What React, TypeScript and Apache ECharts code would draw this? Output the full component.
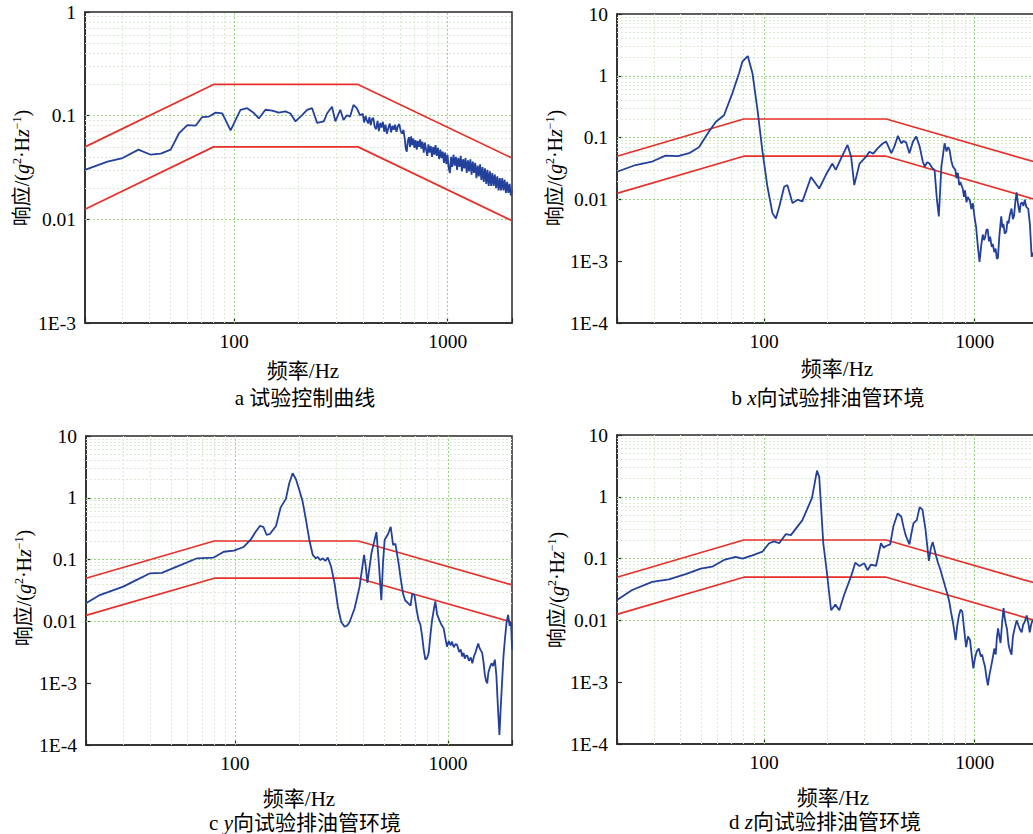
import React, { useEffect, useRef } from "react";
import * as echarts from "echarts";

const FONT = "'Liberation Serif', 'Times New Roman', 'Noto Sans CJK SC', serif";

const xRange = [20, 2000];
const xTickLabels = [100, 1000];
const xMajorGrid = [100, 1000];
const xMinorGrid = [30, 40, 50, 60, 70, 80, 90, 200, 300, 400, 500, 600, 700, 800, 900];
const yRangeA = [0.001, 1];
const yRangeBCD = [0.0001, 10];
const minorMultipliers = [2, 3, 4, 5, 6, 7, 8, 9];

const specUpper = [[20, 0.05], [80, 0.2], [380, 0.2], [2000, 0.039]];
const specLower = [[20, 0.0125], [80, 0.05], [380, 0.05], [2000, 0.0097]];

const respA = [
  [20, 0.03], [25.5, 0.036], [30, 0.039], [35.6, 0.047], [40.6, 0.042], [45.3, 0.043], [50.4, 0.047],
  [55.2, 0.068], [60.3, 0.081], [65.9, 0.08], [70.8, 0.097], [76.2, 0.098], [81.8, 0.107], [87.9, 0.105],
  [96.2, 0.072], [101.5, 0.091], [107, 0.114], [115, 0.118], [123.6, 0.106], [130.4, 0.094], [140, 0.114],
  [150.6, 0.112], [161.7, 0.107], [173.6, 0.11], [183.3, 0.105], [193.6, 0.088], [207.9, 0.101],
  [219.5, 0.114], [231.6, 0.118], [244.5, 0.085], [262.7, 0.088], [272, 0.105], [287, 0.122],
  [297.6, 0.088], [313.9, 0.114], [325, 0.091], [337, 0.101], [348.9, 0.098], [361.8, 0.127],
  [375, 0.118], [388, 0.101],
  [400, 0.104], [406, 0.086], [412, 0.099], [418, 0.09], [424, 0.084], [430, 0.097], [436, 0.081],
  [442, 0.093], [448, 0.095], [455, 0.078], [462, 0.074], [469, 0.089], [476, 0.071], [483, 0.085],
  [490, 0.077], [497, 0.087], [504, 0.07], [511, 0.082], [519, 0.067], [527, 0.076], [535, 0.084],
  [543, 0.069], [551, 0.08], [559, 0.073], [567, 0.082], [575, 0.07], [584, 0.079], [593, 0.083],
  [602, 0.071], [611, 0.067], [620, 0.073], [629, 0.06], [636, 0.048], [643, 0.045], [650, 0.057],
  [658, 0.062], [666, 0.05], [674, 0.063], [682, 0.052], [690, 0.06], [698, 0.049], [707, 0.058],
  [716, 0.047], [725, 0.057], [734, 0.05], [743, 0.059], [752, 0.048], [762, 0.056], [772, 0.044],
  [782, 0.055], [792, 0.047], [802, 0.041], [812, 0.053], [822, 0.044], [833, 0.051], [844, 0.04],
  [855, 0.05], [866, 0.042], [877, 0.052], [888, 0.041], [900, 0.049], [912, 0.038], [924, 0.047],
  [936, 0.039], [948, 0.045], [960, 0.035], [972, 0.044], [985, 0.034], [998, 0.042], [1011, 0.031],
  [1024, 0.028], [1037, 0.04], [1050, 0.032], [1064, 0.042], [1078, 0.033], [1092, 0.04], [1106, 0.03],
  [1120, 0.039], [1135, 0.032], [1150, 0.041], [1165, 0.029], [1180, 0.038], [1195, 0.031], [1211, 0.039],
  [1227, 0.028], [1243, 0.037], [1259, 0.029], [1276, 0.038], [1293, 0.027], [1310, 0.036], [1327, 0.028],
  [1345, 0.035], [1363, 0.025], [1381, 0.033], [1399, 0.026], [1418, 0.034], [1437, 0.024], [1456, 0.032],
  [1475, 0.023], [1495, 0.031], [1515, 0.022], [1535, 0.03], [1555, 0.021], [1576, 0.029], [1597, 0.021],
  [1618, 0.028], [1640, 0.021], [1662, 0.027], [1684, 0.02], [1707, 0.026], [1730, 0.019], [1753, 0.025],
  [1776, 0.019], [1800, 0.025], [1824, 0.019], [1848, 0.024], [1873, 0.018], [1898, 0.023], [1923, 0.018],
  [1949, 0.022], [1975, 0.017], [2000, 0.019],
];

const respB = [
  [20, 0.028], [24.5, 0.036], [29.4, 0.041], [34, 0.051], [39, 0.05], [44, 0.056], [49, 0.07],
  [54.7, 0.125], [59, 0.18], [64.5, 0.23], [70.6, 0.52], [76, 1.1], [78.8, 1.69], [83.6, 2.09],
  [88, 1.1], [93, 0.28], [98, 0.063], [103.7, 0.016], [109.5, 0.006], [113.7, 0.0049], [118, 0.0076],
  [124.5, 0.016], [129, 0.017], [136.5, 0.0087], [144, 0.0099], [152, 0.0093], [167, 0.023],
  [182.7, 0.015], [196.6, 0.025], [211, 0.038], [219, 0.03], [232, 0.046], [249, 0.076], [259, 0.049],
  [268, 0.017], [284, 0.038], [305, 0.049], [316, 0.059], [330, 0.055], [346, 0.067], [367, 0.081],
  [380, 0.086], [402, 0.056], [416, 0.072], [432, 0.107], [448, 0.081], [460, 0.088], [473, 0.083],
  [490, 0.056], [509, 0.086], [528, 0.104], [548, 0.072], [567, 0.041], [580, 0.034], [595, 0.04],
  [610, 0.038], [630, 0.032], [645, 0.03], [662, 0.0099], [676, 0.0053], [695, 0.034], [720, 0.081],
  [735, 0.06], [748, 0.07], [760, 0.063], [775, 0.042], [788, 0.034], [810, 0.03], [820, 0.022],
  [832, 0.027], [845, 0.017], [855, 0.019], [878, 0.015], [890, 0.011], [900, 0.014], [915, 0.009],
  [927, 0.011], [950, 0.0095], [965, 0.007], [980, 0.0087], [1000, 0.005], [1016, 0.0036], [1035, 0.0018],
  [1055, 0.00097], [1075, 0.0018], [1093, 0.0027], [1108, 0.0022], [1120, 0.0024], [1138, 0.0032],
  [1153, 0.0033], [1170, 0.0021], [1185, 0.0025], [1205, 0.0017], [1220, 0.0019], [1240, 0.0014],
  [1258, 0.0016], [1275, 0.0011], [1290, 0.00113], [1310, 0.0025], [1325, 0.0038], [1338, 0.0053],
  [1355, 0.0035], [1370, 0.004], [1390, 0.0028], [1414, 0.003], [1432, 0.0045], [1450, 0.0041],
  [1470, 0.0056], [1497, 0.0071], [1520, 0.0048], [1540, 0.0055], [1560, 0.009], [1583, 0.013],
  [1600, 0.0095], [1615, 0.0075], [1636, 0.0061], [1655, 0.0085], [1680, 0.009], [1705, 0.0078],
  [1731, 0.0099], [1760, 0.0075], [1797, 0.0071], [1830, 0.004], [1866, 0.00118], [1930, 0.0015],
  [2000, 0.002],
];

const respC = [
  [20, 0.0196], [23.2, 0.0267], [29.9, 0.0365], [34.6, 0.047], [40, 0.06], [45.4, 0.061], [53.4, 0.077],
  [66.5, 0.105], [79.6, 0.108], [88.7, 0.134], [98.9, 0.14], [110, 0.16], [118.6, 0.21], [125, 0.28],
  [131, 0.35], [136, 0.34], [141, 0.25], [146, 0.26], [156, 0.35], [164, 0.7], [173.6, 0.96], [180, 1.72],
  [186.7, 2.49], [193.5, 2.0], [200.6, 1.34], [208, 0.87], [215.6, 0.44], [223.5, 0.21], [232, 0.119],
  [240, 0.105], [245, 0.11], [252, 0.098], [258.5, 0.105], [266, 0.095], [273, 0.108], [283, 0.077],
  [293.5, 0.042], [304.5, 0.0173], [315.6, 0.0098], [327.5, 0.0082], [337, 0.0086], [345.6, 0.0098],
  [365, 0.0163], [385, 0.0365], [404, 0.119], [411, 0.08], [419, 0.042], [437.5, 0.126], [462, 0.28],
  [475, 0.08], [487, 0.022], [496, 0.09], [505, 0.21], [524, 0.26], [539, 0.34], [553, 0.173], [567, 0.18],
  [587, 0.087], [600, 0.05], [616, 0.028], [630, 0.022], [652, 0.0196], [668, 0.018], [680, 0.028],
  [697, 0.0267], [712, 0.016], [728, 0.0105], [742, 0.009], [756, 0.006], [770, 0.0035], [784, 0.0024],
  [800, 0.0026], [813, 0.0031], [828, 0.006], [843, 0.0105], [860, 0.016], [873, 0.021], [890, 0.013],
  [912, 0.0105], [930, 0.009], [955, 0.0077], [972, 0.0055], [990, 0.0039], [1010, 0.0048],
  [1030, 0.0041], [1046, 0.0047], [1065, 0.0038], [1085, 0.0043], [1104, 0.0042], [1130, 0.0032],
  [1150, 0.0035], [1167, 0.0027], [1185, 0.0031], [1200, 0.0025], [1216, 0.0028], [1233, 0.0028],
  [1255, 0.0023], [1280, 0.0026], [1303, 0.0021], [1325, 0.0027], [1350, 0.0032], [1370, 0.0038],
  [1389, 0.0044], [1405, 0.0038], [1420, 0.0035], [1449, 0.0031], [1470, 0.0022], [1490, 0.0014],
  [1510, 0.0011], [1530, 0.00099], [1550, 0.0015], [1575, 0.0018], [1603, 0.0021], [1630, 0.0019],
  [1662, 0.0024], [1690, 0.0013], [1720, 0.00037], [1746, 0.000145], [1770, 0.0004], [1798, 0.0011],
  [1825, 0.0028], [1851, 0.005], [1885, 0.0095], [1918, 0.0127], [1950, 0.0085], [1980, 0.0098],
  [2000, 0.0035],
];

const respD = [
  [20, 0.0214], [23.6, 0.031], [29.4, 0.042], [35.3, 0.046], [42.4, 0.056], [50, 0.069], [56.7, 0.074],
  [64.5, 0.095], [73.3, 0.107], [78.8, 0.1], [88, 0.113], [98.2, 0.13], [105.6, 0.177], [111.6, 0.19],
  [117.9, 0.177], [126.9, 0.25], [134, 0.24], [152, 0.42], [168.7, 0.95], [178.3, 2.65], [182.7, 2.1],
  [191, 0.177], [198, 0.066], [208, 0.0146], [218, 0.018], [227.5, 0.0146], [240, 0.026], [258.5, 0.051],
  [271, 0.086], [283.5, 0.076], [299, 0.084], [310, 0.065], [322, 0.08], [340, 0.076], [359, 0.177],
  [370, 0.15], [379, 0.16], [397, 0.17], [411, 0.33], [431, 0.54], [448, 0.48], [460, 0.32], [470, 0.24],
  [490, 0.17], [500, 0.25], [512, 0.37], [531, 0.42], [548, 0.68], [565, 0.62], [584, 0.3], [606, 0.092],
  [620, 0.15], [632, 0.186], [645, 0.14], [656, 0.11], [670, 0.085], [685, 0.069], [710, 0.045],
  [725, 0.035], [744, 0.026], [758, 0.02], [772, 0.0138], [790, 0.009], [812, 0.0048], [826, 0.008],
  [842, 0.012], [858, 0.015], [874, 0.0138], [892, 0.007], [911, 0.0037], [930, 0.0055], [951, 0.0048],
  [968, 0.0028], [986, 0.00167], [1005, 0.0025], [1025, 0.0032], [1047, 0.0035], [1070, 0.0026],
  [1086, 0.0028], [1102, 0.0022], [1120, 0.0018], [1138, 0.0012], [1156, 0.00089], [1175, 0.0013],
  [1198, 0.0018], [1222, 0.0026], [1240, 0.0035], [1260, 0.0028], [1275, 0.0052], [1292, 0.0074],
  [1310, 0.0055], [1328, 0.0043], [1350, 0.009], [1372, 0.0158], [1390, 0.011], [1405, 0.009],
  [1425, 0.0072], [1450, 0.004], [1475, 0.0032], [1497, 0.0028], [1520, 0.0055], [1550, 0.0075],
  [1583, 0.01], [1610, 0.0085], [1640, 0.0072], [1673, 0.0064], [1700, 0.0085], [1730, 0.0095],
  [1767, 0.012], [1800, 0.009], [1827, 0.0064], [1855, 0.0085], [1880, 0.01], [1940, 0.009],
  [2000, 0.0105],
];

const panels = [
  { grid: { left: 85, top: 12, width: 427, height: 311 }, yRange: yRangeA, resp: respA,
    yName: [22, 168], xName: [303, 371], caption: [305, 398], capLetter: "a", capAxis: "", capText: "试验控制曲线" },
  { grid: { left: 617, top: 14, width: 421, height: 309 }, yRange: yRangeBCD, resp: respB,
    yName: [555, 168], xName: [837, 369], caption: [828, 398], capLetter: "b", capAxis: "x", capText: "向试验排油管环境" },
  { grid: { left: 86, top: 436, width: 426, height: 309 }, yRange: yRangeBCD, resp: respC,
    yName: [24, 588], xName: [299, 799], caption: [305, 823], capLetter: "c", capAxis: "y", capText: "向试验排油管环境" },
  { grid: { left: 617, top: 435, width: 421, height: 309 }, yRange: yRangeBCD, resp: respD,
    yName: [557, 590], xName: [833, 798], caption: [825, 822], capLetter: "d", capAxis: "z", capText: "向试验排油管环境" },
];

function decadesBetween(lo: number, hi: number) {
  const out: number[] = [];
  for (let e = Math.round(Math.log10(lo)); e <= Math.round(Math.log10(hi)); e++) out.push(Math.pow(10, e));
  return out;
}

function yLabel(v: number) {
  const e = Math.round(Math.log10(v));
  if (e >= 0) return String(Math.round(Math.pow(10, e)));
  if (e === -1) return "0.1";
  if (e === -2) return "0.01";
  return "1E" + e;
}

const majorStyle = { color: "#9ad584", width: 1, type: [2, 2] as any };
const minorStyle = { color: "#dbe8d2", width: 1, type: [2, 2] as any };

function buildOption() {
  const grid: any[] = [];
  const xAxis: any[] = [];
  const yAxis: any[] = [];
  const series: any[] = [];
  const graphic: any[] = [];

  panels.forEach((p, i) => {
    grid.push({ ...p.grid, show: true, borderColor: "#2a2a2a", borderWidth: 1.5, backgroundColor: "transparent" });
    xAxis.push({
      type: "log", logBase: 10, gridIndex: i, min: xRange[0], max: xRange[1],
      axisLine: { show: true, lineStyle: { color: "#2a2a2a", width: 1.6 } },
      axisTick: { show: true, inside: true, length: 5, lineStyle: { color: "#2a2a2a", width: 1.2 } },
      axisLabel: {
        color: "#000", fontSize: 19.5, fontFamily: FONT, margin: 9,
        formatter: (v: number) => (xTickLabels.indexOf(Math.round(v)) >= 0 ? String(Math.round(v)) : ""),
      },
      splitLine: { show: false },
    });
    yAxis.push({
      type: "log", logBase: 10, gridIndex: i, min: p.yRange[0], max: p.yRange[1],
      axisLine: { show: true, lineStyle: { color: "#2a2a2a", width: 1.6 } },
      axisTick: { show: true, inside: true, length: 5, lineStyle: { color: "#2a2a2a", width: 1.2 } },
      axisLabel: { color: "#000", fontSize: 19.5, fontFamily: FONT, margin: 9, formatter: yLabel },
      splitLine: { show: false },
    });

    const decades = decadesBetween(p.yRange[0], p.yRange[1]);
    const yMinor: number[] = [];
    decades.slice(0, -1).forEach((d) => minorMultipliers.forEach((m) => yMinor.push(m * d)));
    const yMajor = decades.slice(1, -1);

    series.push({
      type: "line", xAxisIndex: i, yAxisIndex: i, data: [], silent: true, z: 1,
      markLine: {
        silent: true, symbol: ["none", "none"], label: { show: false }, z: 1, animation: false,
        emphasis: { disabled: true },
        data: [
          ...xMinorGrid.map((v) => ({ xAxis: v, lineStyle: minorStyle })),
          ...yMinor.map((v) => ({ yAxis: v, lineStyle: minorStyle })),
          ...xMajorGrid.map((v) => ({ xAxis: v, lineStyle: majorStyle })),
          ...yMajor.map((v) => ({ yAxis: v, lineStyle: majorStyle })),
        ],
      },
    });
    series.push({
      type: "line", xAxisIndex: i, yAxisIndex: i, data: specUpper, showSymbol: false, silent: true, z: 3,
      lineStyle: { color: "#e8302a", width: 1.7 },
    });
    series.push({
      type: "line", xAxisIndex: i, yAxisIndex: i, data: specLower, showSymbol: false, silent: true, z: 3,
      lineStyle: { color: "#e8302a", width: 1.7 },
    });
    series.push({
      type: "line", xAxisIndex: i, yAxisIndex: i, data: p.resp, showSymbol: false, silent: true, z: 4,
      lineStyle: { color: "#23409a", width: 1.8 },
    });

    graphic.push({
      type: "text", x: p.yName[0], y: p.yName[1], rotation: Math.PI / 2,
      style: {
        text: "{t|响应/(}{i|g}{s|2}{t|·H}{i|z}{s|−1}{t|)}",
        align: "center", verticalAlign: "middle",
        rich: {
          t: { fontFamily: FONT, fontSize: 20, fill: "#000", lineHeight: 22 },
          i: { fontFamily: FONT, fontSize: 20, fontStyle: "italic", fill: "#000", lineHeight: 22 },
          s: { fontFamily: FONT, fontSize: 12, fill: "#000", verticalAlign: "top", lineHeight: 22 },
        },
      },
    });
    graphic.push({
      type: "text", x: p.xName[0], y: p.xName[1],
      style: { text: "频率/Hz", font: `21px ${FONT}`, fill: "#000", align: "center", verticalAlign: "middle" },
    });
    graphic.push({
      type: "text", x: p.caption[0], y: p.caption[1],
      style: {
        text: `{t|${p.capLetter} }` + (p.capAxis ? `{i|${p.capAxis}}` : "") + `{t|${p.capText}}`,
        align: "center", verticalAlign: "middle",
        rich: {
          t: { fontFamily: FONT, fontSize: 21, fill: "#000" },
          i: { fontFamily: FONT, fontSize: 21, fontStyle: "italic", fill: "#000" },
        },
      },
    });
  });

  return { animation: false, backgroundColor: "#fff", grid, xAxis, yAxis, series, graphic };
}

export default function App() {
  const ref = useRef<HTMLDivElement>(null);
  useEffect(() => {
    if (!ref.current) return;
    const chart = echarts.init(ref.current, undefined, { renderer: "svg" });
    chart.setOption(buildOption() as any);
    return () => chart.dispose();
  }, []);
  return (
    <div style={{ position: "fixed", left: 0, top: 0, width: 1033, height: 834, overflow: "hidden", background: "#fff" }}>
      <div ref={ref} style={{ width: 1042, height: 834 }} />
    </div>
  );
}
